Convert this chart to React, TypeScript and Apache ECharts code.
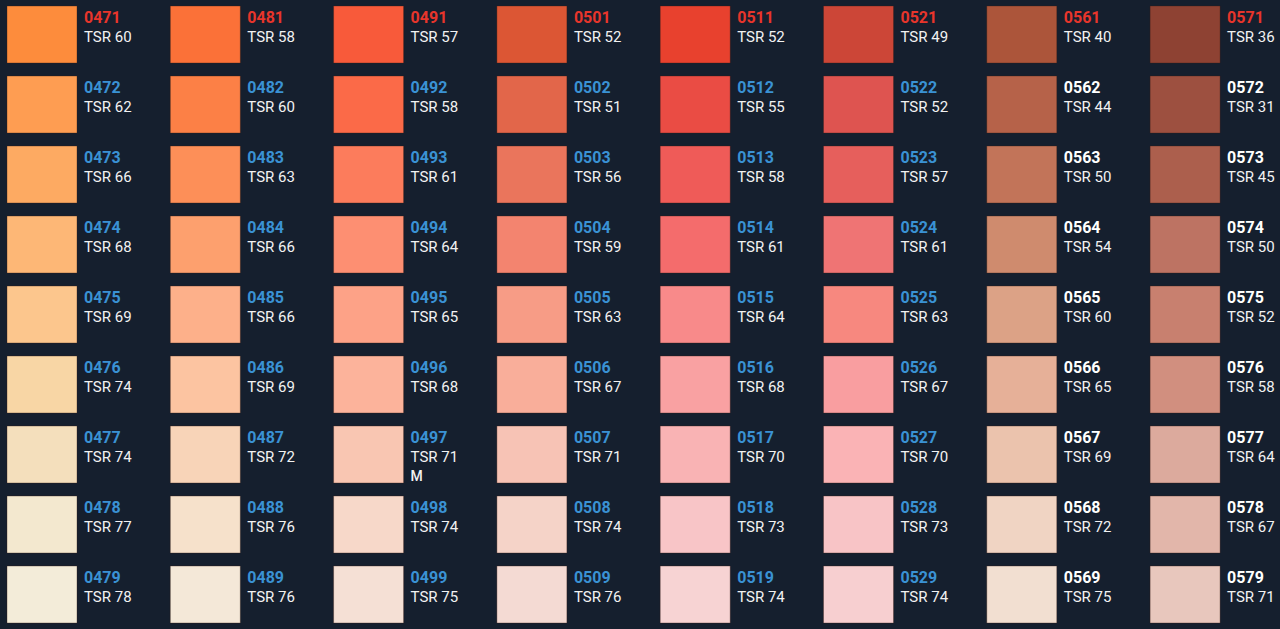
import React, { useEffect, useRef } from "react";
import * as echarts from "echarts";

// Colour families (columns) and shade numbers (rows)
const families = ["047", "048", "049", "050", "051", "052", "056", "057"];
const shades = ["1", "2", "3", "4", "5", "6", "7", "8", "9"];

// TSR values per family
const tsr047 = [60, 62, 66, 68, 69, 74, 74, 77, 78];
const tsr048 = [58, 60, 63, 66, 66, 69, 72, 76, 76];
const tsr049 = [57, 58, 61, 64, 65, 68, 71, 74, 75];
const tsr050 = [52, 51, 56, 59, 63, 67, 71, 74, 76];
const tsr051 = [52, 55, 58, 61, 64, 68, 70, 73, 74];
const tsr052 = [49, 52, 57, 61, 63, 67, 70, 73, 74];
const tsr056 = [40, 44, 50, 54, 60, 65, 69, 72, 75];
const tsr057 = [36, 31, 45, 50, 52, 58, 64, 67, 71];
const tsrValues = [tsr047, tsr048, tsr049, tsr050, tsr051, tsr052, tsr056, tsr057];

// Swatch colours per family
const colors047 = ["#fd8c3c", "#fe9d52", "#fdaa62", "#fdb776", "#fcc68d", "#f8d6a5", "#f4dfbc", "#f3e8cf", "#f3ecd9"];
const colors048 = ["#fb7138", "#fc8046", "#fd8f58", "#fda06e", "#fdb08a", "#fcc4a1", "#f8d4b8", "#f6e1cb", "#f4e8d8"];
const colors049 = ["#f85a3a", "#fb6a48", "#fc7c5c", "#fd8f72", "#fda287", "#fcb39b", "#f9c6b2", "#f7d8c9", "#f5e0d5"];
const colors050 = ["#dc5634", "#e2664a", "#ea755c", "#f3846f", "#f79c86", "#f9ae9a", "#f7c3b5", "#f5d3c8", "#f4dad3"];
const colors051 = ["#e8412e", "#ea4c44", "#ef5b58", "#f46c6c", "#f88a8a", "#f9a1a2", "#f9b3b4", "#f8c5c7", "#f7d3d3"];
const colors052 = ["#cc4637", "#de5450", "#e65f5c", "#ef7474", "#f7887f", "#f99ea0", "#fab3b5", "#f8c4c6", "#f7cfd0"];
const colors056 = ["#ac553a", "#b66249", "#c27459", "#cf8b6e", "#dca286", "#e6b098", "#ebc3ad", "#f0d4c3", "#f2dfd1"];
const colors057 = ["#8e4233", "#9d5040", "#ac5f4d", "#bd7363", "#c8806f", "#d18f7f", "#dcaa9d", "#e2b6aa", "#e8c7bd"];
const swatchColors = [colors047, colors048, colors049, colors050, colors051, colors052, colors056, colors057];

// Extra notes under some codes
const notes: Record<string, string> = { "0497": "M" };
// Families whose codes (rows after the first) are printed in white
const whiteCodeFamilies = ["056", "057"];

const BG = "#151f2e";
const RED = "#e8352b";
const BLUE = "#3a92d4";
const COL_PITCH = 163.3;
const ROW_PITCH = 70;
const SW_W = 70;
const SW_H = 57;
const FONT = "Roboto, 'Noto Sans', sans-serif";

type Cell = { col: number; row: number; code: string; tsr: number; color: string; codeColor: string; note: string };

const cells: Cell[] = [];
families.forEach((fam, c) => {
  shades.forEach((s, r) => {
    const code = "0" + fam.substring(1) + s;
    const codeColor = r === 0 ? RED : whiteCodeFamilies.includes(fam) ? "#ffffff" : BLUE;
    cells.push({
      col: c,
      row: r,
      code,
      tsr: tsrValues[c][r],
      color: swatchColors[c][r],
      codeColor,
      note: notes[code] || "",
    });
  });
});

export default function App() {
  const ref = useRef<HTMLDivElement>(null);
  useEffect(() => {
    if (!ref.current) return;
    const chart = echarts.init(ref.current, undefined, { renderer: "svg" });
    chart.setOption({
      animation: false,
      backgroundColor: BG,
      grid: { left: 7, right: 0, top: 6, bottom: 0 },
      xAxis: { type: "value", min: 0, max: 1273 / COL_PITCH, show: false },
      yAxis: { type: "value", min: 0, max: 623 / ROW_PITCH, inverse: true, show: false },
      series: [
        {
          type: "custom",
          data: cells.map((d, i) => [d.col, d.row, i]),
          encode: { x: 0, y: 1 },
          renderItem: (params: any, api: any) => {
            const d = cells[api.value(2)];
            const pt = api.coord([api.value(0), api.value(1)]);
            const x = pt[0];
            const y = pt[1];
            const children: any[] = [
              {
                type: "rect",
                shape: { x, y, width: SW_W, height: SW_H },
                style: { fill: d.color, stroke: "rgba(60,30,20,0.35)", lineWidth: 1 },
              },
              {
                type: "text",
                x: x + 77,
                y: y + 11,
                style: {
                  text: d.code,
                  fill: d.codeColor,
                  fontSize: 16,
                  fontWeight: "bold",
                  fontFamily: FONT,
                  align: "left",
                  verticalAlign: "middle",
                },
              },
              {
                type: "text",
                x: x + 77,
                y: y + 30.5,
                style: {
                  text: "TSR " + d.tsr,
                  fill: "#f2f2f2",
                  fontSize: 15,
                  fontFamily: FONT,
                  align: "left",
                  verticalAlign: "middle",
                },
              },
            ];
            if (d.note) {
              children.push({
                type: "text",
                x: x + 77,
                y: y + 50,
                style: {
                  text: d.note,
                  fill: "#f2f2f2",
                  fontSize: 14,
                  fontWeight: 500,
                  fontFamily: FONT,
                  align: "left",
                  verticalAlign: "middle",
                },
              });
            }
            return { type: "group", children };
          },
        },
      ],
    });
    return () => chart.dispose();
  }, []);
  return (
    <div
      ref={ref}
      style={{ position: "absolute", left: 0, top: 0, width: 1280, height: 629 }}
    />
  );
}
